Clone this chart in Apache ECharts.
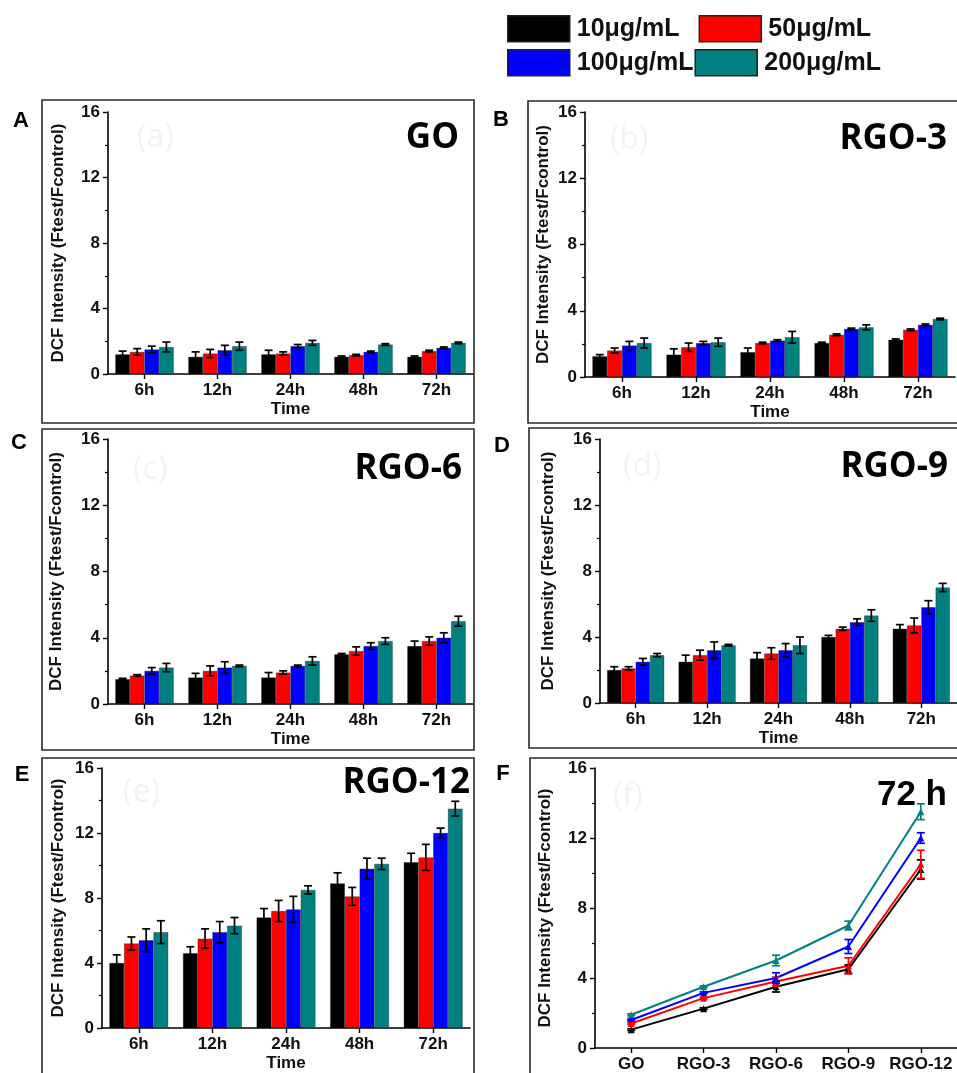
<!DOCTYPE html>
<html>
<head>
<meta charset="utf-8">
<style>
  html, body { margin: 0; padding: 0; background: #fff; }
  #chart { width: 957px; height: 1073px; }
</style>
<script src="https://cdn.jsdelivr.net/npm/echarts@6.0.0/dist/echarts.min.js"></script>
</head>
<body>
<div id="chart"></div>
<script>
// categories
const timeLabels = ['6h', '12h', '24h', '48h', '72h']
const materials = ['GO', 'RGO-3', 'RGO-6', 'RGO-9', 'RGO-12']
const concNames = ['10μg/mL', '50μg/mL', '100μg/mL', '200μg/mL']
const yTicks = [0, 4, 8, 12, 16]

// mean DCF intensity, one row per concentration (10, 50, 100, 200), one column per time
const goMeans = [
  [1.2, 1.05, 1.2, 1.05, 1.05],
  [1.35, 1.25, 1.25, 1.15, 1.4],
  [1.5, 1.45, 1.7, 1.35, 1.6],
  [1.65, 1.7, 1.9, 1.8, 1.9],
]
const goErrors = [
  [0.2, 0.3, 0.25, 0.05, 0.05],
  [0.2, 0.25, 0.1, 0.05, 0.05],
  [0.2, 0.3, 0.1, 0.05, 0.05],
  [0.3, 0.25, 0.15, 0.05, 0.05],
]
const rgo3Means = [
  [1.25, 1.35, 1.5, 2.05, 2.25],
  [1.6, 1.8, 2.05, 2.55, 2.85],
  [1.9, 2.05, 2.2, 2.9, 3.15],
  [2.05, 2.1, 2.4, 3.0, 3.5],
]
const rgo3Errors = [
  [0.1, 0.35, 0.25, 0.05, 0.05],
  [0.15, 0.25, 0.05, 0.05, 0.05],
  [0.25, 0.1, 0.05, 0.05, 0.05],
  [0.3, 0.25, 0.35, 0.15, 0.05],
]
const rgo6Means = [
  [1.5, 1.6, 1.6, 3.0, 3.5],
  [1.72, 2.0, 1.9, 3.2, 3.8],
  [2.0, 2.2, 2.3, 3.5, 4.0],
  [2.2, 2.3, 2.6, 3.8, 5.0],
]
const rgo6Errors = [
  [0.05, 0.25, 0.3, 0.05, 0.3],
  [0.05, 0.3, 0.1, 0.25, 0.25],
  [0.2, 0.35, 0.05, 0.2, 0.3],
  [0.25, 0.05, 0.25, 0.2, 0.3],
]
const rgo9Means = [
  [2.0, 2.5, 2.7, 4.0, 4.5],
  [2.1, 2.9, 3.0, 4.5, 4.7],
  [2.5, 3.2, 3.2, 4.9, 5.8],
  [2.9, 3.5, 3.5, 5.3, 7.0],
]
const rgo9Errors = [
  [0.2, 0.4, 0.35, 0.1, 0.25],
  [0.1, 0.3, 0.35, 0.1, 0.45],
  [0.2, 0.5, 0.4, 0.2, 0.4],
  [0.1, 0.05, 0.5, 0.35, 0.25],
]
const rgo12Means = [
  [4.0, 4.6, 6.8, 8.9, 10.2],
  [5.2, 5.5, 7.2, 8.1, 10.5],
  [5.4, 5.9, 7.3, 9.8, 12.0],
  [5.9, 6.3, 8.5, 10.1, 13.5],
]
const rgo12Errors = [
  [0.5, 0.4, 0.55, 0.65, 0.55],
  [0.4, 0.6, 0.65, 0.55, 0.8],
  [0.7, 0.65, 0.8, 0.65, 0.3],
  [0.7, 0.5, 0.25, 0.35, 0.45],
]

const allMeans = [goMeans, rgo3Means, rgo6Means, rgo9Means, rgo12Means]
const allErrors = [goErrors, rgo3Errors, rgo6Errors, rgo9Errors, rgo12Errors]
const colors = ['#000000', '#ff0000', '#0000ff', '#008080']

const FONT = "'Liberation Sans', Arial, sans-serif"
const TITLE_FONT = "'Open Sans', 'Liberation Sans', sans-serif"

// panel layout
const grids = [
  { left: 108, top: 112, width: 365, height: 262 },
  { left: 585, top: 112, width: 370, height: 265 },
  { left: 108, top: 439, width: 365, height: 265 },
  { left: 600, top: 439, width: 357, height: 264 },
  { left: 102, top: 768, width: 368, height: 261 },
  { left: 595, top: 768, width: 365, height: 280 },
]
const yNameGaps = [41, 33, 43, 43, 35, 41]
const frames = [
  [42, 100, 432, 323], [528, 101, 440, 322],
  [42, 429, 432, 321], [529, 428, 440, 320],
  [42, 758, 432, 330], [530, 758, 440, 330],
]
const letters = [['A', 21, 121], ['B', 501, 120], ['C', 19, 443], ['D', 502, 446], ['E', 22, 775], ['F', 503, 774]]
const panelTitles = [
  ['GO', 459, 138, TITLE_FONT], ['RGO-3', 947, 139, TITLE_FONT], ['RGO-6', 462, 469, TITLE_FONT],
  ['RGO-9', 948, 467, TITLE_FONT], ['RGO-12', 470, 783, TITLE_FONT], ['72 h', 947, 795, FONT],
]
const ghostLabels = [['(a)', 137, 138], ['(b)', 610, 140], ['(c)', 133, 470], ['(d)', 623, 467], ['(e)', 123, 793], ['(f)', 613, 797]]

const axisLine = { show: true, lineStyle: { color: '#000', width: 1.6 } }

const xAxes = grids.map((g, i) => ({
  type: 'category',
  gridIndex: i,
  data: i < 5 ? timeLabels : materials,
  name: i < 5 ? 'Time' : '',
  nameLocation: 'middle',
  nameGap: 27,
  nameTextStyle: { fontFamily: FONT, fontWeight: 'bold', fontSize: 17, color: '#111' },
  axisLine,
  axisTick: { show: true, alignWithLabel: true, length: 5, lineStyle: { color: '#000', width: 1.4 } },
  axisLabel: { fontFamily: FONT, fontWeight: 'bold', fontSize: 17, color: '#111', margin: 8, interval: 0 },
  splitLine: { show: false },
}))

const yAxes = grids.map((g, i) => ({
  type: 'value',
  gridIndex: i,
  min: yTicks[0],
  max: yTicks[yTicks.length - 1],
  interval: yTicks[1] - yTicks[0],
  name: 'DCF Intensity (Ftest/Fcontrol)',
  nameLocation: 'middle',
  nameGap: yNameGaps[i],
  nameTextStyle: { fontFamily: FONT, fontWeight: 'bold', fontSize: 17, color: '#111' },
  axisLine,
  axisTick: { show: true, inside: false, length: 5, lineStyle: { color: '#000', width: 1.4 } },
  minorTick: { show: true, splitNumber: 2, length: 3, lineStyle: { color: '#000', width: 1.2 } },
  axisLabel: { fontFamily: FONT, fontWeight: 'bold', fontSize: 17, color: '#111', margin: 8 },
  splitLine: { show: false },
  minorSplitLine: { show: false },
}))

// error bar drawn through the axis scales; slot places it over its bar inside the group
const errorRender = (slot, slots, stroke) => (params, api) => {
  const x = api.value(0)
  const lo = api.coord([x, api.value(1)])
  const hi = api.coord([x, api.value(2)])
  const band = api.size([1, 0])[0]
  const barW = slots > 1 ? band * 0.8 / slots : 0
  const dx = (slot - (slots - 1) / 2) * barW
  const cx = lo[0] + dx
  const cap = 4
  const style = { stroke, lineWidth: 1.7 }
  return {
    type: 'group',
    children: [
      { type: 'line', shape: { x1: cx, y1: lo[1], x2: cx, y2: hi[1] }, style },
      { type: 'line', shape: { x1: cx - cap, y1: hi[1], x2: cx + cap, y2: hi[1] }, style },
      { type: 'line', shape: { x1: cx - cap, y1: lo[1], x2: cx + cap, y2: lo[1] }, style },
    ],
  }
}

const series = []
allMeans.forEach((means, p) => {
  means.forEach((vals, c) => {
    series.push({
      type: 'bar',
      name: concNames[c],
      xAxisIndex: p,
      yAxisIndex: p,
      data: vals,
      barGap: '0%',
      barCategoryGap: '20%',
      itemStyle: { color: colors[c], borderColor: 'rgba(0,0,0,0.55)', borderWidth: 0.6 },
      emphasis: { disabled: true },
      z: 2,
    })
  })
  means.forEach((vals, c) => {
    series.push({
      type: 'custom',
      xAxisIndex: p,
      yAxisIndex: p,
      data: vals.map((v, i) => [i, v - allErrors[p][c][i], v + allErrors[p][c][i]]),
      encode: { x: 0, y: [1, 2] },
      renderItem: errorRender(c, 4, '#000'),
      silent: true,
      z: 5,
    })
  })
})

// panel F: 72 h values across materials
concNames.forEach((name, c) => {
  const vals = allMeans.map(m => m[c][4])
  const errs = allErrors.map(e => e[c][4])
  series.push({
    type: 'line',
    name,
    xAxisIndex: 5,
    yAxisIndex: 5,
    data: vals,
    symbol: 'triangle',
    symbolSize: 7,
    lineStyle: { color: colors[c], width: 2 },
    itemStyle: { color: colors[c] },
    emphasis: { disabled: true },
    z: 3 + c,
  })
  series.push({
    type: 'custom',
    xAxisIndex: 5,
    yAxisIndex: 5,
    data: vals.map((v, i) => [i, v - errs[i], v + errs[i]]),
    encode: { x: 0, y: [1, 2] },
    renderItem: errorRender(0, 1, colors[c]),
    silent: true,
    z: 8,
  })
})

const legendBase = {
  orient: 'horizontal',
  left: 507,
  padding: 0,
  icon: 'rect',
  itemWidth: 62,
  itemHeight: 26,
  selectedMode: false,
  itemStyle: { borderColor: '#222', borderWidth: 1.5 },
  textStyle: { fontFamily: FONT, fontWeight: 'bold', fontSize: 25, color: '#111', padding: [0, 0, 0, 2] },
}

const graphic = []
frames.forEach(([x, y, w, h]) => {
  graphic.push({ type: 'rect', shape: { x, y, width: w, height: h }, style: { fill: 'none', stroke: '#2a2a2a', lineWidth: 1.6 }, silent: true })
})
ghostLabels.forEach(([text, x, y]) => {
  graphic.push({ type: 'text', x, y, style: { text, font: `32px ${TITLE_FONT}`, fill: '#f3f3f3', textVerticalAlign: 'middle' }, silent: true })
})
letters.forEach(([text, x, y]) => {
  graphic.push({ type: 'text', x, y, style: { text, font: `bold 22px ${FONT}`, fill: '#000', textAlign: 'center', textVerticalAlign: 'middle' }, silent: true })
})
panelTitles.forEach(([text, x, y, family]) => {
  graphic.push({ type: 'text', x, y, z: 20, style: { text, font: `bold 35px ${family}`, fill: '#000', textAlign: 'right', textVerticalAlign: 'middle' }, silent: true })
})

const chart = echarts.init(document.getElementById('chart'))
chart.setOption({
  animation: false,
  backgroundColor: '#fff',
  legend: [
    { ...legendBase, top: 15, itemGap: 19, data: concNames.slice(0, 2) },
    { ...legendBase, top: 49, itemGap: 1, data: concNames.slice(2, 4) },
  ],
  grid: grids,
  xAxis: xAxes,
  yAxis: yAxes,
  series,
  graphic,
})

window.addEventListener('resize', () => chart.resize())
</script>
</body>
</html>
